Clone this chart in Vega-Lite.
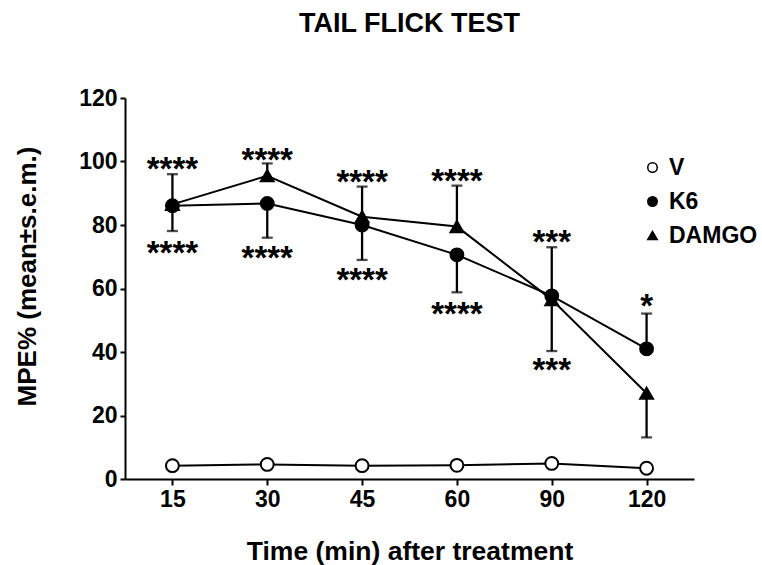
{
  "$schema": "https://vega.github.io/schema/vega-lite/v6.json",
  "width": 569,
  "height": 381,
  "autosize": "none",
  "padding": {"left": 125, "top": 98, "right": 68, "bottom": 86},
  "title": {"text": "TAIL FLICK TEST", "fontSize": 27, "font": "Liberation Sans", "fontWeight": "bold", "color": "black", "anchor": "middle", "baseline": "alphabetic", "offset": 28},
  "config": {
    "view": {"stroke": null},
    "font": "Liberation Sans",
    "axis": {
      "domainColor": "black", "domainWidth": 2, "tickColor": "black", "tickWidth": 2,
      "labelFont": "Liberation Sans", "labelFontWeight": "bold", "labelFontSize": 23, "labelColor": "black",
      "titleFont": "Liberation Sans", "titleFontWeight": "bold", "titleColor": "black", "grid": false
    },
    "legend": {
      "labelFont": "Liberation Sans", "labelFontWeight": "bold", "labelFontSize": 23, "labelColor": "black",
      "padding": 0
    }
  },
  "datasets": {
    "points": [
      {"time": "15", "group": "V", "mpe": 4.2},
      {"time": "30", "group": "V", "mpe": 4.6},
      {"time": "45", "group": "V", "mpe": 4.2},
      {"time": "60", "group": "V", "mpe": 4.3},
      {"time": "90", "group": "V", "mpe": 4.9},
      {"time": "120", "group": "V", "mpe": 3.4},
      {"time": "15", "group": "K6", "mpe": 86.1},
      {"time": "30", "group": "K6", "mpe": 86.8},
      {"time": "45", "group": "K6", "mpe": 80.0},
      {"time": "60", "group": "K6", "mpe": 70.6},
      {"time": "90", "group": "K6", "mpe": 57.7},
      {"time": "120", "group": "K6", "mpe": 41.0},
      {"time": "15", "group": "DAMGO", "mpe": 86.5},
      {"time": "30", "group": "DAMGO", "mpe": 95.5},
      {"time": "45", "group": "DAMGO", "mpe": 82.6},
      {"time": "60", "group": "DAMGO", "mpe": 79.5},
      {"time": "90", "group": "DAMGO", "mpe": 56.5},
      {"time": "120", "group": "DAMGO", "mpe": 27.0}
    ],
    "bars": [
      {"time": "15", "group": "DAMGO", "mean": 86.5, "end": 96.0},
      {"time": "15", "group": "K6", "mean": 86.1, "end": 78.1},
      {"time": "30", "group": "DAMGO", "mean": 95.5, "end": 99.4},
      {"time": "30", "group": "K6", "mean": 86.8, "end": 76.0},
      {"time": "45", "group": "DAMGO", "mean": 82.6, "end": 92.1},
      {"time": "45", "group": "K6", "mean": 80.0, "end": 69.0},
      {"time": "60", "group": "DAMGO", "mean": 79.5, "end": 92.4},
      {"time": "60", "group": "K6", "mean": 70.6, "end": 58.8},
      {"time": "90", "group": "K6", "mean": 57.7, "end": 73.0},
      {"time": "90", "group": "DAMGO", "mean": 56.5, "end": 40.3},
      {"time": "120", "group": "K6", "mean": 41.0, "end": 52.1},
      {"time": "120", "group": "DAMGO", "mean": 27.0, "end": 13.1}
    ],
    "stars": [
      {"time": "15", "pos": 100.2, "label": "****"},
      {"time": "15", "pos": 73.7, "label": "****"},
      {"time": "30", "pos": 103.1, "label": "****"},
      {"time": "30", "pos": 72.1, "label": "****"},
      {"time": "45", "pos": 96.0, "label": "****"},
      {"time": "45", "pos": 65.3, "label": "****"},
      {"time": "60", "pos": 96.3, "label": "****"},
      {"time": "60", "pos": 54.6, "label": "****"},
      {"time": "90", "pos": 77.1, "label": "***"},
      {"time": "90", "pos": 36.9, "label": "***"},
      {"time": "120", "pos": 56.9, "label": "*"}
    ]
  },
  "encoding": {
    "x": {
      "field": "time", "type": "ordinal",
      "sort": ["15", "30", "45", "60", "90", "120"],
      "scale": {"type": "point", "padding": 0.5},
      "axis": {"title": "Time (min) after treatment", "titleFontSize": 26.5, "titleY": 80, "titleBaseline": "alphabetic", "labelAngle": 0, "tickSize": 6, "labelPadding": 3}
    }
  },
  "layer": [
    {
      "data": {"name": "points"},
      "mark": {"type": "line", "color": "black", "strokeWidth": 2},
      "encoding": {
        "y": {"field": "mpe", "type": "quantitative", "scale": {"domain": [0, 120], "nice": false},
          "axis": {"values": [0, 20, 40, 60, 80, 100, 120], "title": "MPE% (mean±s.e.m.)", "titleFontSize": 26, "titleAngle": -90, "titleAlign": "center", "titleBaseline": "middle", "titleX": -98, "titleY": 178, "tickSize": 5, "labelPadding": 3}},
        "detail": {"field": "group", "type": "nominal"}
      }
    },
    {
      "data": {"name": "bars"},
      "mark": {"type": "rule", "color": "black", "strokeWidth": 2.3},
      "encoding": {
        "y": {"field": "mean", "type": "quantitative"},
        "y2": {"field": "end"}
      }
    },
    {
      "data": {"name": "bars"},
      "mark": {"type": "tick", "orient": "horizontal", "color": "black", "size": 11, "thickness": 2.3},
      "encoding": {
        "y": {"field": "end", "type": "quantitative"}
      }
    },
    {
      "data": {"name": "points"},
      "mark": {"type": "point", "filled": true, "stroke": "black", "strokeWidth": 2, "opacity": 1, "size": 165},
      "encoding": {
        "y": {"field": "mpe", "type": "quantitative"},
        "shape": {"field": "group", "type": "nominal", "scale": {"domain": ["V", "K6", "DAMGO"], "range": ["circle", "circle", "triangle-up"]},
          "legend": {"title": null, "orient": "none", "legendX": 516, "legendY": 58, "symbolSize": 90, "labelOffset": 5, "rowPadding": 10,
            "encode": {"symbols": {"update": {"stroke": {"value": "black"}, "strokeWidth": {"value": 1.5}}}}}},
        "fill": {"field": "group", "type": "nominal", "scale": {"domain": ["V", "K6", "DAMGO"], "range": ["white", "black", "black"]},
          "legend": {"title": null, "orient": "none", "legendX": 516, "legendY": 58, "symbolSize": 90, "labelOffset": 5, "rowPadding": 10,
            "encode": {"symbols": {"update": {"stroke": {"value": "black"}, "strokeWidth": {"value": 1.5}}}}}}
      }
    },
    {
      "data": {"name": "stars"},
      "mark": {"type": "text", "fontSize": 33, "fontWeight": "bold", "baseline": "alphabetic", "dy": 19, "color": "black", "font": "Liberation Sans"},
      "encoding": {
        "y": {"field": "pos", "type": "quantitative"},
        "text": {"field": "label"}
      }
    }
  ]
}
